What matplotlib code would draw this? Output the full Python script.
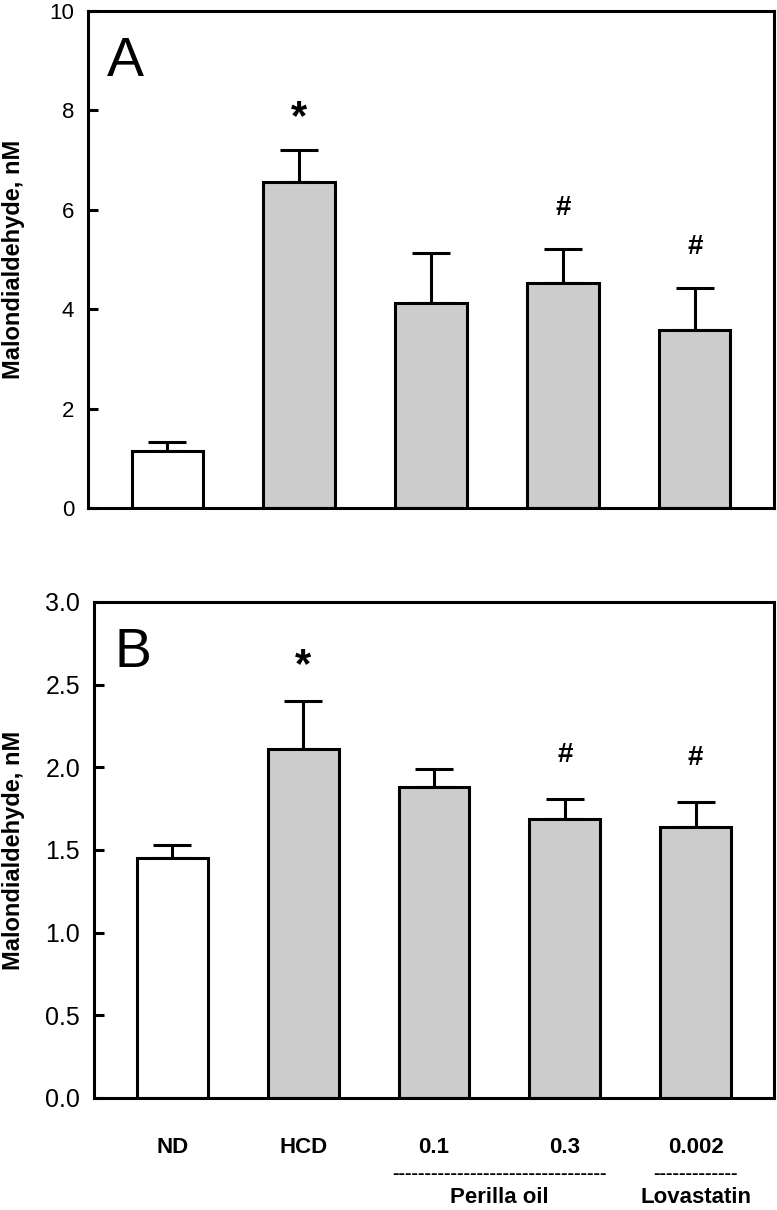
import matplotlib
matplotlib.use("Agg")
import matplotlib.pyplot as plt
import numpy as np

# 数据：各组丙二醛（MDA）含量，均值 + 上误差
groups = ['ND', 'HCD', '0.1', '0.3', '0.002']
fill_colors = ['white', '#cccccc', '#cccccc', '#cccccc', '#cccccc']

mda_a = [1.15, 6.55, 4.12, 4.53, 3.58]
err_a = [0.18, 0.65, 1.01, 0.68, 0.85]
sig_a = ['', '*', '', '#', '#']

mda_b = [1.45, 2.11, 1.88, 1.69, 1.64]
err_b = [0.08, 0.29, 0.11, 0.12, 0.15]
sig_b = ['', '*', '', '#', '#']

ticks_a = [0, 2, 4, 6, 8, 10]
ticks_b = [0.0, 0.5, 1.0, 1.5, 2.0, 2.5, 3.0]

plt.rcParams['font.family'] = ['Liberation Sans', 'DejaVu Sans']

LW = 2.2


def draw_panel(ax, values, errors, marks, ymax, yticks, fmt, letter,
               star_off, hash_off, tick_fs, letter_x):
    x = np.arange(len(values))
    ax.bar(x, values, width=0.54, color=fill_colors, edgecolor='black',
           linewidth=LW, zorder=2)
    # 只画向上的误差线
    ax.errorbar(x, values, yerr=[np.zeros(len(errors)), errors], fmt='none',
                ecolor='black', elinewidth=LW, capsize=14, capthick=LW, zorder=1)
    for xi, v, e, m in zip(x, values, errors, marks):
        if m == '*':
            ax.text(xi, v + e + star_off, m, ha='center', va='center',
                    fontsize=30, fontweight='bold')
        elif m == '#':
            ax.text(xi, v + e + hash_off, m, ha='center', va='center',
                    fontsize=20, fontweight='bold')
    ax.set_xlim(-0.6, 4.6)
    ax.set_ylim(0, ymax)
    ax.set_yticks(yticks)
    ax.set_yticklabels([fmt.format(t) for t in yticks], fontsize=tick_fs)
    ax.set_xticks([])
    ax.tick_params(axis='y', direction='in', length=7, width=LW, pad=10)
    for s in ax.spines.values():
        s.set_linewidth(LW)
    ax.set_ylabel('Malondialdehyde, nM', fontsize=17, fontweight='bold')
    ax.text(letter_x, 0.95, letter, transform=ax.transAxes, fontsize=40,
            ha='left', va='top')


fig = plt.figure(figsize=(7.77, 12.10), dpi=100)
ax_a = fig.add_axes([0.1133, 0.5802, 0.8828, 0.4107])
ax_b = fig.add_axes([0.1210, 0.0926, 0.8751, 0.4099])

draw_panel(ax_a, mda_a, err_a, sig_a, 10, ticks_a, '{:g}', 'A',
           0.64, 0.82, 16, 0.028)
draw_panel(ax_b, mda_b, err_b, sig_b, 3.0, ticks_b, '{:.1f}', 'B',
           0.215, 0.265, 18, 0.03)

ax_a.yaxis.set_label_coords(-0.092, 0.5)
ax_b.yaxis.set_label_coords(-0.101, 0.5)

# 组别标签
tr = ax_b.get_xaxis_transform()
for i, g in enumerate(groups):
    ax_b.text(i, -0.099, g, transform=tr, ha='center', va='center',
              fontsize=16, fontweight='bold')

ax_b.text(2.5, -0.155, '-' * 33, transform=tr, ha='center', va='center',
          fontsize=14, fontweight='bold')
ax_b.text(4, -0.155, '-' * 13, transform=tr, ha='center', va='center',
          fontsize=14, fontweight='bold')
ax_b.text(2.5, -0.2, 'Perilla oil', transform=tr, ha='center', va='center',
          fontsize=16, fontweight='bold')
ax_b.text(4, -0.2, 'Lovastatin', transform=tr, ha='center', va='center',
          fontsize=16, fontweight='bold')

fig.savefig('out.png', dpi=100)
